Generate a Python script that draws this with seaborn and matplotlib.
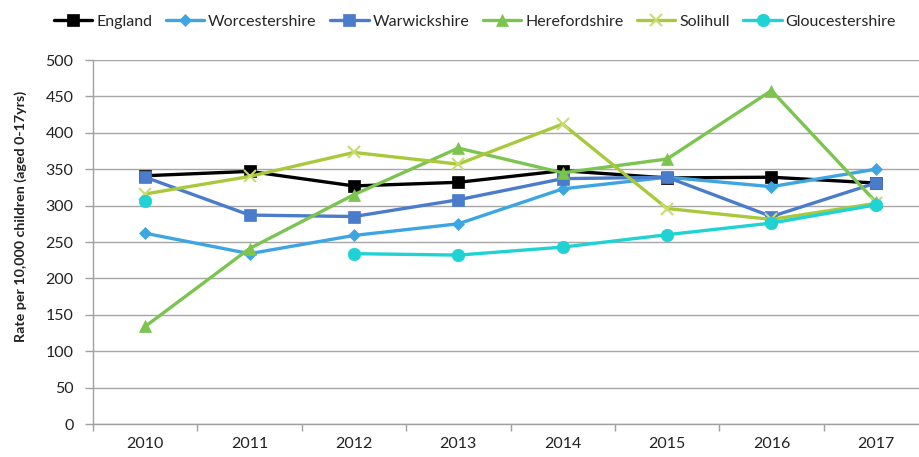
import numpy as np
import pandas as pd
import seaborn as sns
import matplotlib.pyplot as plt
from matplotlib.ticker import MultipleLocator, FixedLocator

# data
years = ['2010', '2011', '2012', '2013', '2014', '2015', '2016', '2017']
england = [341, 347, 327, 332, 348, 338, 339, 331]
worcestershire = [262, 234, 259, 275, 323, 339, 326, 350]
warwickshire = [339, 287, 285, 308, 337, 339, 285, 331]
herefordshire = [134, 241, 315, 379, 345, 364, 458, 305]
solihull = [316, 340, 373, 357, 412, 296, 281, 303]
gloucestershire = [306, np.nan, 234, 232, 243, 260, 276, 301]

series = {
    'England': england,
    'Worcestershire': worcestershire,
    'Warwickshire': warwickshire,
    'Herefordshire': herefordshire,
    'Solihull': solihull,
    'Gloucestershire': gloucestershire,
}
colors = {
    'England': '#000000',
    'Worcestershire': '#3DA5E2',
    'Warwickshire': '#4A7CCB',
    'Herefordshire': '#7CC450',
    'Solihull': '#A9C93C',
    'Gloucestershire': '#1FD2D4',
}
markers = {
    'England': 's',
    'Worcestershire': 'D',
    'Warwickshire': 's',
    'Herefordshire': '^',
    'Solihull': 'x',
    'Gloucestershire': 'o',
}
msize = {
    'England': 9,
    'Worcestershire': 6,
    'Warwickshire': 9,
    'Herefordshire': 9,
    'Solihull': 8,
    'Gloucestershire': 9,
}

sns.set_style('white')
plt.rcParams['font.family'] = ['Lato', 'DejaVu Sans']

fig = plt.figure(figsize=(9.19, 4.57), dpi=100)
ax = fig.add_axes([93 / 919, 1 - 424 / 457, (928 - 93) / 919, 364 / 457])

for name, vals in series.items():
    vals = np.asarray(vals, dtype=float)
    pos = np.arange(len(years))
    # split into runs so gaps stay gaps
    seg = np.cumsum(np.isnan(vals))
    ok = ~np.isnan(vals)
    df = pd.DataFrame({'pos': pos[ok], 'rate': vals[ok], 'seg': seg[ok]})
    mec = '#C8DC72' if name == 'Solihull' else colors[name]
    sns.lineplot(data=df, x='pos', y='rate', units='seg', estimator=None,
                 color=colors[name], marker=markers[name], markersize=msize[name],
                 markeredgecolor=mec, markerfacecolor=mec,
                 markeredgewidth=1.5 if name == 'Solihull' else 0.5,
                 linewidth=2.4, label=name, ax=ax)

ax.set_xlim(-0.5, 7.5)
ax.set_ylim(0, 500)
ax.yaxis.set_major_locator(MultipleLocator(50))
ax.set_xticks(range(len(years)))
ax.set_xticklabels(years)
ax.xaxis.set_minor_locator(FixedLocator(np.arange(-0.5, 8, 1)))
ax.tick_params(axis='x', which='major', length=0, pad=9, labelsize=11.5, colors='#222222')
ax.tick_params(axis='x', which='minor', length=5, width=1, color='#A0A0A0', direction='out', bottom=True)
ax.tick_params(axis='y', length=6, width=1, color='#A0A0A0', direction='out', left=True,
               pad=8, labelsize=11.5, labelcolor='#222222')
ax.grid(axis='y', color='#A6A6A6', linewidth=1)
ax.set_axisbelow(True)
for s in ['top', 'right']:
    ax.spines[s].set_visible(False)
for s in ['left', 'bottom']:
    ax.spines[s].set_color('#A0A0A0')
    ax.spines[s].set_linewidth(1)

ax.set_xlabel('')
ax.set_ylabel('Rate per 10,000 children (aged 0-17yrs)', fontsize=10.3, fontweight='bold',
              color='#222222')
# rotated label is anchored at its right-hand side
ax.yaxis.set_label_coords(27 / 919, 1 - 216 / 457, transform=fig.transFigure)

handles, labels = ax.get_legend_handles_labels()
uniq = dict(zip(labels, handles))
ax.legend(list(uniq.values()), list(uniq.keys()), ncol=6, frameon=False,
          loc='center', bbox_to_anchor=(475 / 919, 1 - 22 / 457),
          bbox_transform=fig.transFigure, fontsize=11.5, handlelength=2.4,
          handletextpad=0.25, columnspacing=0.85, borderaxespad=0)

fig.savefig('out.png', dpi=100)
